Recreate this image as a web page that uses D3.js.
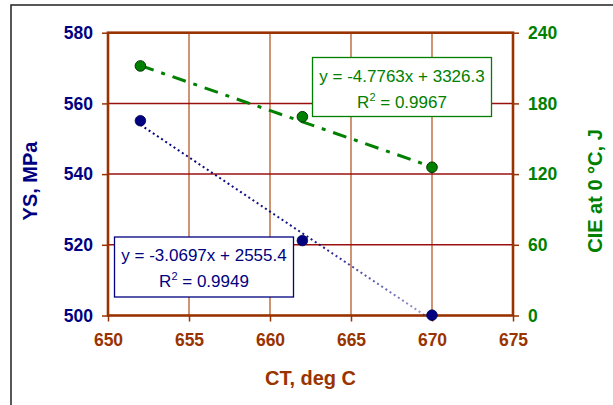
<!DOCTYPE html>
<html>
<head>
<meta charset="utf-8">
<script src="https://cdn.jsdelivr.net/npm/d3@7"></script>
<style>
  html, body { margin: 0; padding: 0; background: #fff; }
  svg { display: block; font-family: Arial, "Liberation Sans", sans-serif; }
</style>
</head>
<body>
<svg id="chart" width="613" height="405"></svg>
<script>
// Coiling temperature vs. yield strength and Charpy impact energy
const ctValues = [652, 662, 670];
const ysValues = [555.1, 521.2, 500.1];
const cieValues = [211.8, 168.7, 125.8];

// Linear fits shown in the boxes
const ysFit = { slope: -3.0697, intercept: 2555.4, r2: 0.9949 };
const cieFit = { slope: -4.7763, intercept: 3326.3, r2: 0.9967 };

const xTicks = [650, 655, 660, 665, 670, 675];
const ysTicks = [500, 520, 540, 560, 580];
const cieTicks = [0, 60, 120, 180, 240];

const brown = "#993300", navy = "#000080", green = "#008000";

const svg = d3.select("#chart");

// outer frame (top and left edges)
svg.append("path").attr("d", "M11,405 V5 H613")
  .attr("fill", "none").attr("stroke", "#222").attr("stroke-width", 1.5);

const x = d3.scaleLinear().domain([650, 675]).range([108, 513]);
const yL = d3.scaleLinear().domain([500, 580]).range([315.5, 32.7]);
const yR = d3.scaleLinear().domain([0, 240]).range([315.5, 32.7]);

// gridlines
svg.append("g").selectAll("line").data(xTicks.slice(1, -1)).join("line")
  .attr("x1", d => x(d)).attr("x2", d => x(d))
  .attr("y1", yL(500)).attr("y2", yL(580))
  .attr("stroke", "#c27a50").attr("stroke-width", 1.6);
svg.append("g").selectAll("line").data(ysTicks.slice(1, -1)).join("line")
  .attr("x1", x(650)).attr("x2", x(675))
  .attr("y1", d => yL(d)).attr("y2", d => yL(d))
  .attr("stroke", "#9a1010").attr("stroke-width", 1.5);

// axes
const axisStyle = g => {
  g.select(".domain").remove();
  g.selectAll(".tick line").attr("stroke", brown).attr("stroke-width", 1.5);
  g.selectAll(".tick text").attr("font-size", 17.5).attr("font-weight", "bold")
    .attr("font-family", "Arial, 'Liberation Sans', sans-serif");
};
svg.append("g").attr("transform", `translate(0,${yL(500)})`)
  .call(d3.axisBottom(x).tickValues(xTicks).tickSize(6).tickPadding(12).tickFormat(d3.format("d")))
  .call(axisStyle).call(g => g.selectAll(".tick text").attr("fill", brown));
svg.append("g").attr("transform", `translate(${x(650)},0)`)
  .call(d3.axisLeft(yL).tickValues(ysTicks).tickSize(6).tickPadding(9).tickFormat(d3.format("d")))
  .call(axisStyle).call(g => g.selectAll(".tick text").attr("fill", navy));
svg.append("g").attr("transform", `translate(${x(675)},0)`)
  .call(d3.axisRight(yR).tickValues(cieTicks).tickSize(6).tickPadding(9).tickFormat(d3.format("d")))
  .call(axisStyle).call(g => g.selectAll(".tick text").attr("fill", green));

// plot border
svg.append("rect").attr("x", x(650)).attr("y", yL(580))
  .attr("width", x(675) - x(650)).attr("height", yL(500) - yL(580))
  .attr("fill", "none").attr("stroke", brown).attr("stroke-width", 2.6);

// axis titles
svg.append("text").attr("x", x(662.5)).attr("y", 385).attr("text-anchor", "middle")
  .attr("font-size", 20).attr("font-weight", "bold").attr("fill", brown).text("CT, deg C");
svg.append("text").attr("transform", "translate(37,181) rotate(-90)").attr("text-anchor", "middle")
  .attr("font-size", 20).attr("font-weight", "bold").attr("fill", navy).text("YS, MPa");
svg.append("text").attr("transform", "translate(602,191) rotate(-90)").attr("text-anchor", "middle")
  .attr("font-size", 20).attr("font-weight", "bold").attr("fill", green).text("CIE at 0 °C, J");

// trend lines over the measured range
const [x0, x1] = d3.extent(ctValues);
const defs = svg.append("defs");
const grad = defs.append("linearGradient").attr("id", "ysFade")
  .attr("gradientUnits", "userSpaceOnUse")
  .attr("x1", x(x0)).attr("x2", x(x1)).attr("y1", 0).attr("y2", 0);
grad.append("stop").attr("offset", "0").attr("stop-color", navy).attr("stop-opacity", 1);
grad.append("stop").attr("offset", "0.6").attr("stop-color", navy).attr("stop-opacity", 0.9);
grad.append("stop").attr("offset", "1").attr("stop-color", navy).attr("stop-opacity", 0.35);

svg.append("line")
  .attr("x1", x(x0)).attr("y1", yL(ysFit.slope * x0 + ysFit.intercept))
  .attr("x2", x(x1)).attr("y2", yL(ysFit.slope * x1 + ysFit.intercept))
  .attr("stroke", "url(#ysFade)").attr("stroke-width", 2).attr("stroke-dasharray", "2,3");
svg.append("line")
  .attr("x1", x(x0)).attr("y1", yR(cieFit.slope * x0 + cieFit.intercept))
  .attr("x2", x(x1)).attr("y2", yR(cieFit.slope * x1 + cieFit.intercept))
  .attr("stroke", green).attr("stroke-width", 3).attr("stroke-dasharray", "14,8,4,8");

// data points
svg.append("g").selectAll("circle").data(ctValues).join("circle")
  .attr("cx", d => x(d)).attr("cy", (d, i) => yL(ysValues[i])).attr("r", 5.3)
  .attr("fill", navy).attr("stroke", "#00004a").attr("stroke-width", 0.8);
svg.append("g").selectAll("circle").data(ctValues).join("circle")
  .attr("cx", d => x(d)).attr("cy", (d, i) => yR(cieValues[i])).attr("r", 5.3)
  .attr("fill", green).attr("stroke", "#003300").attr("stroke-width", 1);

// equation boxes
const fmt = v => (v < 0 ? "-" : "") + Math.abs(v).toString();
function eqBox(fit, color, bx, by, bw, bh) {
  const g = svg.append("g");
  g.append("rect").attr("x", bx).attr("y", by).attr("width", bw).attr("height", bh)
    .attr("fill", "#fff").attr("stroke", color).attr("stroke-width", 1.3);
  const cx = bx + bw / 2;
  g.append("text").attr("x", cx).attr("y", by + 24).attr("text-anchor", "middle")
    .attr("font-size", 17).attr("fill", color)
    .text(`y = ${fmt(fit.slope)}x + ${fit.intercept}`);
  const t = g.append("text").attr("x", cx).attr("y", by + 50).attr("text-anchor", "middle")
    .attr("font-size", 17).attr("fill", color);
  t.append("tspan").text("R");
  t.append("tspan").attr("dy", -7).attr("font-size", 11).text("2");
  t.append("tspan").attr("dy", 7).text(` = ${fit.r2}`);
}
eqBox(cieFit, green, 312.5, 57.5, 179, 59);
eqBox(ysFit, navy, 114.5, 237, 179, 60);
</script>
</body>
</html>
